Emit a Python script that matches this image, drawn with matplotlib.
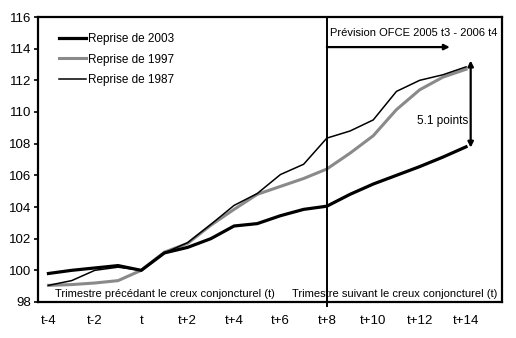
import numpy as np
import matplotlib
matplotlib.use("Agg")
import matplotlib.pyplot as plt

plt.rcParams['font.family'] = ['Liberation Sans', 'DejaVu Sans']

# quarters around the cyclical trough (t = 100)
quarters = ['t-4', 't-3', 't-2', 't-1', 't', 't+1', 't+2', 't+3', 't+4', 't+5',
            't+6', 't+7', 't+8', 't+9', 't+10', 't+11', 't+12', 't+13', 't+14']

reprise_2003 = [99.8, 100.0, 100.15, 100.3, 100.0, 101.1, 101.45, 102.0, 102.8, 102.95,
                103.45, 103.85, 104.05, 104.8, 105.45, 106.0, 106.55, 107.15, 107.8]
reprise_1997 = [99.05, 99.1, 99.2, 99.35, 100.0, 101.15, 101.7, 102.85, 103.85, 104.8,
                105.3, 105.8, 106.4, 107.4, 108.5, 110.15, 111.4, 112.2, 112.7]
reprise_1987 = [99.05, 99.35, 100.0, 100.2, 100.0, 101.1, 101.75, 102.9, 104.1, 104.85,
                106.05, 106.7, 108.35, 108.8, 109.5, 111.3, 112.0, 112.35, 112.85]

x = np.arange(len(quarters))

fig = plt.figure(figsize=(5.16, 3.38), dpi=100)
ax = fig.add_axes([38/516, 36/338, 464/516, 285/338])

ax.plot(x, reprise_2003, color='black', lw=2.3, label='Reprise de 2003', zorder=4)
ax.plot(x, reprise_1997, color='#8a8a8a', lw=2.2, label='Reprise de 1997', zorder=3)
ax.plot(x, reprise_1987, color='black', lw=1.1, label='Reprise de 1987', zorder=5)

ax.set_xlim(-0.45, 19.55)
ax.set_ylim(98, 116)
ax.set_yticks(np.arange(98, 117, 2))
ax.set_xticks(x[::2])
ax.set_xticklabels(quarters[::2])
ax.tick_params(axis='x', length=0, pad=9, labelsize=9.5)
ax.tick_params(axis='y', length=3, width=1.2, pad=2, labelsize=9.5)
for s in ax.spines.values():
    s.set_linewidth(1.6)

# forecast start (t+8 = 2005 t2)
ax.axvline(12, ymin=-0.015, ymax=1, color='black', lw=1.4, clip_on=False, zorder=6)

ax.annotate('', xy=(17.3, 114.1), xytext=(12, 114.1),
            arrowprops=dict(arrowstyle='-|>', color='black', lw=1.6,
                            mutation_scale=8, shrinkA=0, shrinkB=0))
ax.text(12.15, 115.0, 'Prévision OFCE 2005 t3 - 2006 t4', fontsize=8, va='center', ha='left')

ax.annotate('', xy=(18.2, 107.75), xytext=(18.2, 113.25),
            arrowprops=dict(arrowstyle='<|-|>', color='black', lw=1.6,
                            mutation_scale=8, shrinkA=0, shrinkB=0))
ax.text(18.1, 109.45, '5.1 points', fontsize=8.5, va='center', ha='right')

ax.text(0.3, 98.5, 'Trimestre précédant le creux conjoncturel (t)', fontsize=8,
        va='center', ha='left')
ax.text(10.5, 98.5, 'Trimestre suivant le creux conjoncturel (t)', fontsize=8,
        va='center', ha='left')

ax.legend(loc='upper left', bbox_to_anchor=(0.035, 0.96), frameon=False, fontsize=8.5,
          handlelength=2.3, handletextpad=0.2, labelspacing=0.72, borderaxespad=0)

fig.savefig('out.png', dpi=100)
